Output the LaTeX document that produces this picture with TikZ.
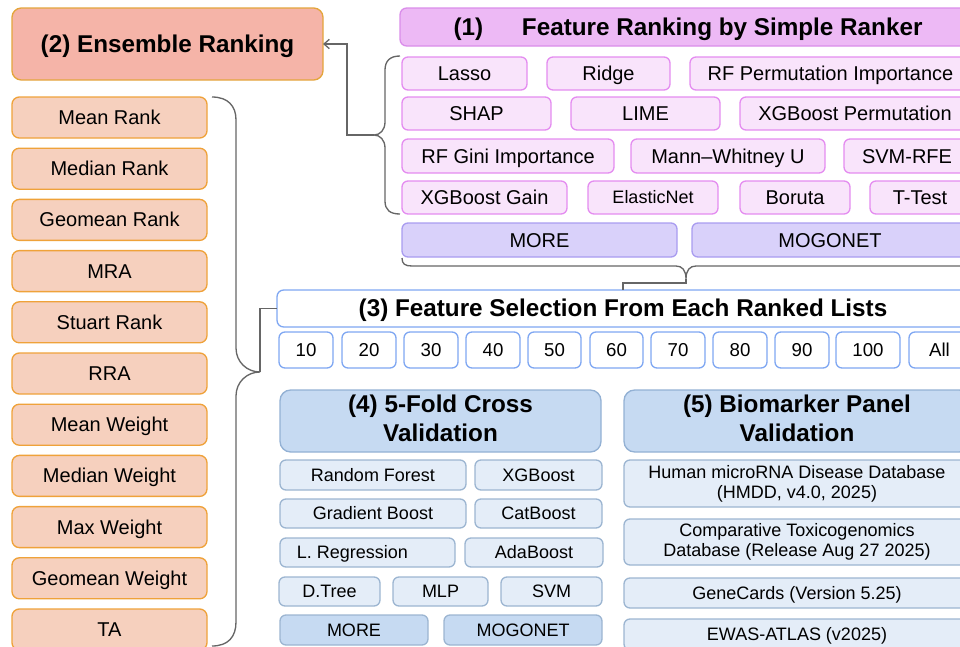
\documentclass[tikz,border=0pt]{standalone}
\usepackage{fontspec}
\setmainfont{Liberation Sans}
\usetikzlibrary{arrows.meta}
\definecolor{ensTitleFill}{HTML}{F5B4A8}
\definecolor{ensTitleDraw}{HTML}{E4A53C}
\definecolor{ensFill}{HTML}{F6D0BE}
\definecolor{ensDraw}{HTML}{EFA23A}
\definecolor{rkTitleFill}{HTML}{EDB9F5}
\definecolor{rkTitleDraw}{HTML}{DA8DEA}
\definecolor{rkFill}{HTML}{F9E4FB}
\definecolor{rkDraw}{HTML}{E48CF0}
\definecolor{mmFill}{HTML}{D9D1FA}
\definecolor{mmDraw}{HTML}{A99CF0}
\definecolor{blueDraw}{HTML}{7FA7F2}
\definecolor{cvTitleFill}{HTML}{C6DAF2}
\definecolor{cvTitleDraw}{HTML}{93B1D4}
\definecolor{cvFill}{HTML}{E4EDF8}
\definecolor{cvDraw}{HTML}{9CB5D1}
\definecolor{connGray}{HTML}{666666}
% #1 style, #2 name, #3 x1, #4 y1, #5 x2, #6 y2, #7 text
\newcommand\mybox[7]{%
  \pgfmathsetmacro\bxw{(#5-#3)*0.75}%
  \pgfmathsetmacro\bxh{(#6-#4)*0.75}%
  \pgfmathsetmacro\bxcx{(#3+#5)/2}%
  \pgfmathsetmacro\bxcy{(#4+#6)/2}%
  \node[#1, minimum width=\bxw pt, minimum height=\bxh pt] (#2) at (\bxcx,\bxcy) {#7};%
}
\begin{document}
\begin{tikzpicture}[x=0.75pt,y=-0.75pt,
  box/.style={draw, rounded corners=4.5pt, line width=1pt, inner sep=0pt, outer sep=0pt, align=center, text=black,
    execute at begin node={\vrule height .92em depth 0pt width 0pt},
    execute at end node={\vrule height 0pt depth .22em width 0pt}},
  textdown/.style={execute at begin node={\vrule height \dimexpr .92em+#1\relax depth 0pt width 0pt}},
  bigtitle/.style={box, rounded corners=7pt, font=\bfseries\fontsize{18.2}{21.75}\selectfont},
  enstitle/.style={bigtitle, fill=ensTitleFill, draw=ensTitleDraw},
  ensitem/.style={box, rounded corners=5.5pt, fill=ensFill, draw=ensDraw, font=\fontsize{15}{18}\selectfont},
  rktitle/.style={bigtitle, rounded corners=5pt, fill=rkTitleFill, draw=rkTitleDraw},
  rkitem/.style={box, fill=rkFill, draw=rkDraw, font=\fontsize{15}{18}\selectfont},
  rksmall/.style={rkitem, font=\fontsize{13.5}{16}\selectfont},
  mmitem/.style={box, fill=mmFill, draw=mmDraw, font=\fontsize{15}{18}\selectfont},
  fstitle/.style={bigtitle, rounded corners=5pt, fill=white, draw=blueDraw},
  numitem/.style={box, fill=white, draw=blueDraw, font=\fontsize{14}{17}\selectfont},
  cvtitle/.style={bigtitle, rounded corners=8pt, fill=cvTitleFill, draw=cvTitleDraw, textdown=6pt},
  cvitem/.style={box, fill=cvFill, draw=cvDraw, font=\fontsize{13.5}{15}\selectfont},
  cvitemtwo/.style={cvitem, textdown=3.6pt},
  cvmm/.style={box, fill=cvTitleFill, draw=cvDraw, font=\fontsize{13.5}{15}\selectfont},
  conn/.style={draw=connGray, line width=1pt},
  brace/.style={draw=connGray, line width=1pt}
]
\useasboundingbox (0,0) rectangle (960,646);
\clip (0,0) rectangle (960,646);

% (2) Ensemble ranking
\mybox{enstitle}{ens}{12}{8}{323}{80}{(2) Ensemble Ranking}
\foreach \t [count=\i from 0] in {Mean Rank, Median Rank, Geomean Rank, MRA, Stuart Rank, RRA, Mean Weight, Median Weight, Max Weight, Geomean Weight, TA}{
  \pgfmathsetmacro\ya{97+51.2*\i}
  \pgfmathsetmacro\yb{\ya+41}
  \mybox{ensitem}{e\i}{12}{\ya}{207}{\yb}{\t}
}

% (1) Feature ranking
\mybox{rktitle}{rk}{400}{8}{976}{46}{(1)\hspace{1.6em}Feature Ranking by Simple Ranker}
\mybox{rkitem}{lasso}{402}{57}{527}{90}{Lasso}
\mybox{rkitem}{ridge}{547}{57}{670}{90}{Ridge}
\mybox{rkitem}{rfperm}{690}{57}{971}{90}{RF Permutation Importance}
\mybox{rkitem}{shap}{402}{97}{551}{130}{SHAP}
\mybox{rkitem}{lime}{571}{97}{720}{130}{LIME}
\mybox{rkitem}{xgbperm}{740}{97}{970}{130}{XGBoost Permutation}
\mybox{rkitem}{rfgini}{402}{139}{614}{173}{RF Gini Importance}
\mybox{rkitem}{mwu}{631}{139}{825}{173}{Mann–Whitney U}
\mybox{rkitem}{svmrfe}{844}{139}{970}{173}{SVM-RFE}
\mybox{rkitem}{xgbgain}{402}{181}{567}{214}{XGBoost Gain}
\mybox{rksmall}{enet}{588}{181}{718}{214}{ElasticNet}
\mybox{rkitem}{boruta}{740}{181}{850}{214}{Boruta}
\mybox{rkitem}{ttest}{870}{181}{970}{214}{T-Test}
\mybox{mmitem}{more1}{402}{223}{677}{257}{MORE}
\mybox{mmitem}{mogo1}{692}{223}{968}{257}{MOGONET}

% (3) Feature selection
\mybox{fstitle}{fs}{277}{290}{969}{327}{(3) Feature Selection From Each Ranked Lists}
\foreach \a/\b/\t in {279/333/10, 342/396/20, 404/458/30, 466/520/40, 528/581/50, 590/643/60, 651/705/70, 713/767/80, 775/829/90, 836/900/100, 909/970/All}{
  \mybox{numitem}{n\t}{\a}{332}{\b}{368}{\t}
}

% (4) Cross validation
\mybox{cvtitle}{cv}{280}{390}{601}{452}{(4) 5-Fold Cross\\Validation}
\mybox{cvitem}{rf}{280}{460}{466}{490}{Random Forest}
\mybox{cvitem}{xgb}{475}{460}{602}{490}{XGBoost}
\mybox{cvitem}{gb}{280}{499}{466}{528}{Gradient Boost}
\mybox{cvitem}{cat}{475}{499}{602}{528}{CatBoost}
\mybox{cvitem}{lr}{280}{538}{455}{567}{L. Regression\hspace{22.5pt}}
\mybox{cvitem}{ada}{465}{538}{603}{567}{AdaBoost}
\mybox{cvitem}{dt}{279}{577}{380}{606}{D.Tree}
\mybox{cvitem}{mlp}{393}{577}{488}{606}{MLP}
\mybox{cvitem}{svm}{501}{577}{602}{606}{SVM}
\mybox{cvmm}{more2}{280}{615}{428}{645}{MORE}
\mybox{cvmm}{mogo2}{444}{615}{602}{645}{MOGONET}

% (5) Biomarker panel validation
\mybox{cvtitle}{bp}{624}{390}{970}{452}{(5) Biomarker Panel\\Validation}
\mybox{cvitemtwo}{hmdd}{624}{460}{970}{507}{Human microRNA Disease Database\\(HMDD, v4.0, 2025)}
\mybox{cvitemtwo}{ctd}{624}{519}{970}{565}{Comparative Toxicogenomics\\Database (Release Aug 27 2025)}
\mybox{cvitem}{gc}{624}{578}{970}{608}{GeneCards (Version 5.25)}
\mybox{cvitem}{ewas}{624}{619}{970}{650}{EWAS-ATLAS (v2025)}

% braces
\coordinate (tb) at (374,135);
\coordinate (lb) at (260,372);
\coordinate (bb) at (686,279);
% top brace (ranker group)
\draw[brace] (400,56) .. controls (390,56) and (385,61) .. (385,70) -- (385,122)
  .. controls (385,130) and (380,135) .. (tb)
  .. controls (380,135) and (385,140) .. (385,148) -- (385,201)
  .. controls (385,210) and (390,214) .. (400,214);
% bottom horizontal brace
\draw[brace] (402,258) .. controls (402,264) and (405,266) .. (412,266) -- (676,266)
  .. controls (682,266) and (686,270) .. (bb)
  .. controls (686,270) and (690,266) .. (696,266) -- (960,266)
  .. controls (966,266) and (970,264) .. (970,258);
% left big brace
\draw[brace] (212,97) .. controls (228,97) and (236,106) .. (236,120) -- (236,348)
  .. controls (236,362) and (247,372) .. (lb)
  .. controls (247,372) and (236,382) .. (236,396) -- (236,622)
  .. controls (236,637) and (228,646) .. (212,646);

% connectors
\draw[conn, -{Straight Barb[length=4pt,width=7pt]}] (tb) -- ++(-27,0) |- (ens.east);
\draw[conn] (bb) -- ++(0,4) -| (fs.north);
\draw[conn] (lb) |- (fs.west);
\end{tikzpicture}
\end{document}
